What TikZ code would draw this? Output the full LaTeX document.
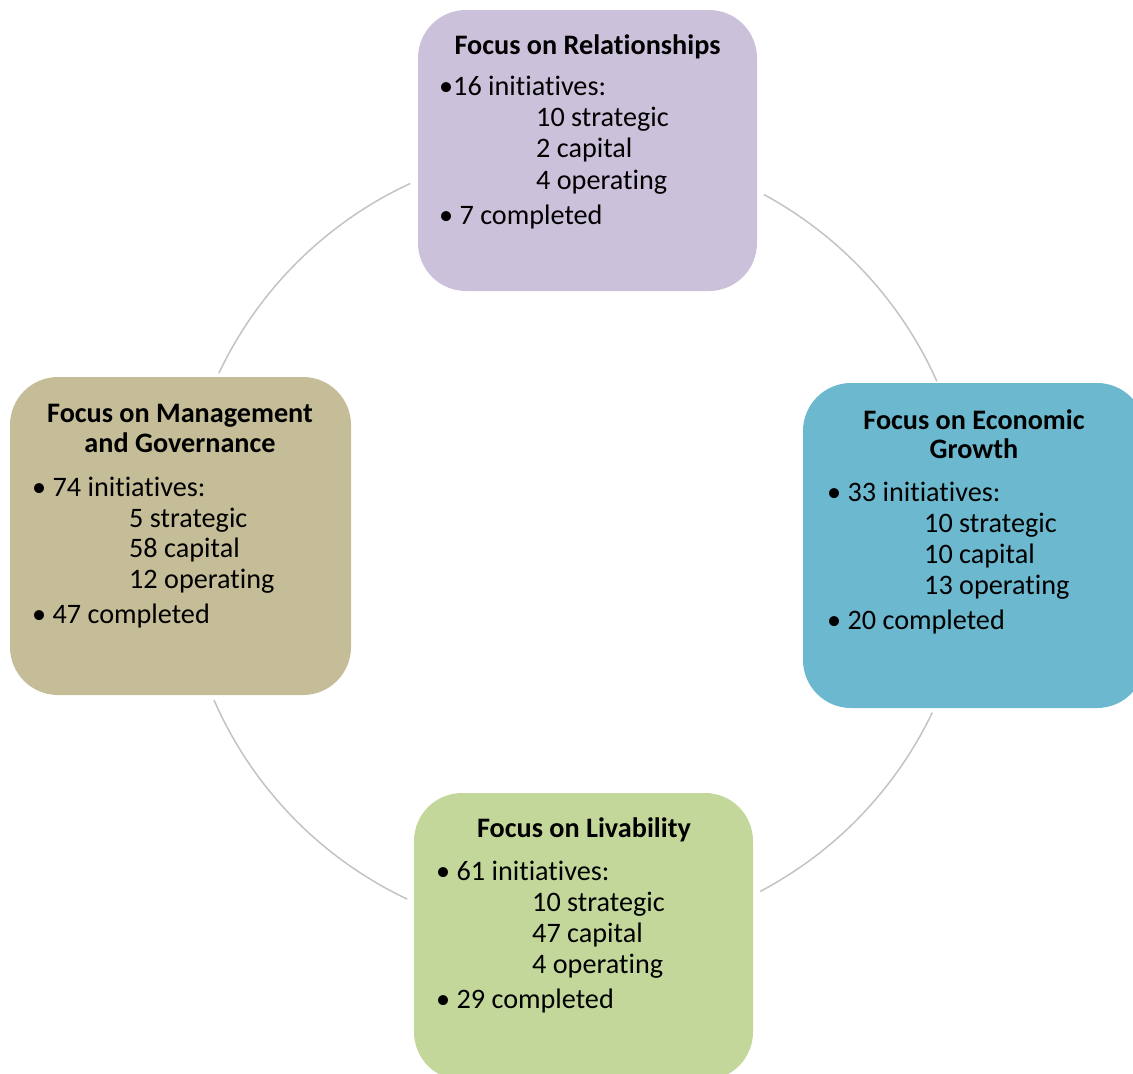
\documentclass[tikz,border=0pt]{standalone}
\usepackage{fontspec}
\setmainfont[Ligatures=NoCommon]{Carlito}
\definecolor{purp}{HTML}{CCC1DA}
\definecolor{bluec}{HTML}{6BB8CF}
\definecolor{greenc}{HTML}{C4D79B}
\definecolor{tanc}{HTML}{C4BD97}
\definecolor{arcc}{HTML}{C3C3C3}
\begin{document}
\begin{tikzpicture}[x=1pt,y=-1pt,
  box/.style={draw=none, rounded corners=48pt, inner sep=0pt},
  ln/.style={anchor=base west, inner sep=0pt, font=\fontsize{28.2}{31}\selectfont},
  ttl/.style={anchor=base, inner sep=0pt, font=\fontsize{28.2}{31}\selectfont\bfseries},
  arcline/.style={draw=arcc, line width=1.5pt}]
\useasboundingbox (0,0) rectangle (1133,1074);
\clip (0,0) rectangle (1133,1074);
% ring
\coordinate (ctr) at (576,542);
\draw[arcline] (ctr) ++(-114.8:395) arc[start angle=-114.8, end angle=-154.7, radius=395];
\draw[arcline] (ctr) ++(-61.6:395) arc[start angle=-61.6, end angle=-24.0, radius=395];
\draw[arcline] (ctr) ++(25.6:395) arc[start angle=25.6, end angle=62.2, radius=395];
\draw[arcline] (ctr) ++(115.3:395) arc[start angle=115.3, end angle=156.4, radius=395];
% boxes
\node[box, fill=purp, minimum width=339pt, minimum height=281pt] (rel) at (587.5,150.5) {};
\node[box, fill=bluec, minimum width=342pt, minimum height=325pt] (eco) at (974,545.5) {};
\node[box, fill=greenc, minimum width=339pt, minimum height=287pt] (liv) at (583.5,936.5) {};
\node[box, fill=tanc, minimum width=341pt, minimum height=318pt] (man) at (180.5,536) {};
% top box text
\node[ttl] (relT) at (587.5,54) {Focus on Relationships};
\node[ln] (relA) at (439,95) {•16 initiatives:};
\node[ln] (relB) at (536,126) {10 strategic};
\node[ln] (relC) at (536,157) {2 capital};
\node[ln] (relD) at (536,189) {4 operating};
\node[ln] (relE) at (439,224) {• 7 completed};
% right box text
\node[ttl] (ecoT1) at (974,429) {Focus on Economic};
\node[ttl] (ecoT2) at (974,458) {Growth};
\node[ln] (ecoA) at (827,501) {• 33 initiatives:};
\node[ln] (ecoB) at (924,532) {10 strategic};
\node[ln] (ecoC) at (924,563) {10 capital};
\node[ln] (ecoD) at (924,594) {13 operating};
\node[ln] (ecoE) at (827,629) {• 20 completed};
% bottom box text
\node[ttl] (livT) at (584,837) {Focus on Livability};
\node[ln] (livA) at (436,880) {• 61 initiatives:};
\node[ln] (livB) at (532,911) {10 strategic};
\node[ln] (livC) at (532,942) {47 capital};
\node[ln] (livD) at (532,973) {4 operating};
\node[ln] (livE) at (436,1008) {• 29 completed};
% left box text
\node[ttl] (manT1) at (180,422) {Focus on Management};
\node[ttl] (manT2) at (180,452) {and Governance};
\node[ln] (manA) at (32,496) {• 74 initiatives:};
\node[ln] (manB) at (129,527) {5 strategic};
\node[ln] (manC) at (129,557) {58 capital};
\node[ln] (manD) at (129,588) {12 operating};
\node[ln] (manE) at (32,623) {• 47 completed};
\end{tikzpicture}
\end{document}
